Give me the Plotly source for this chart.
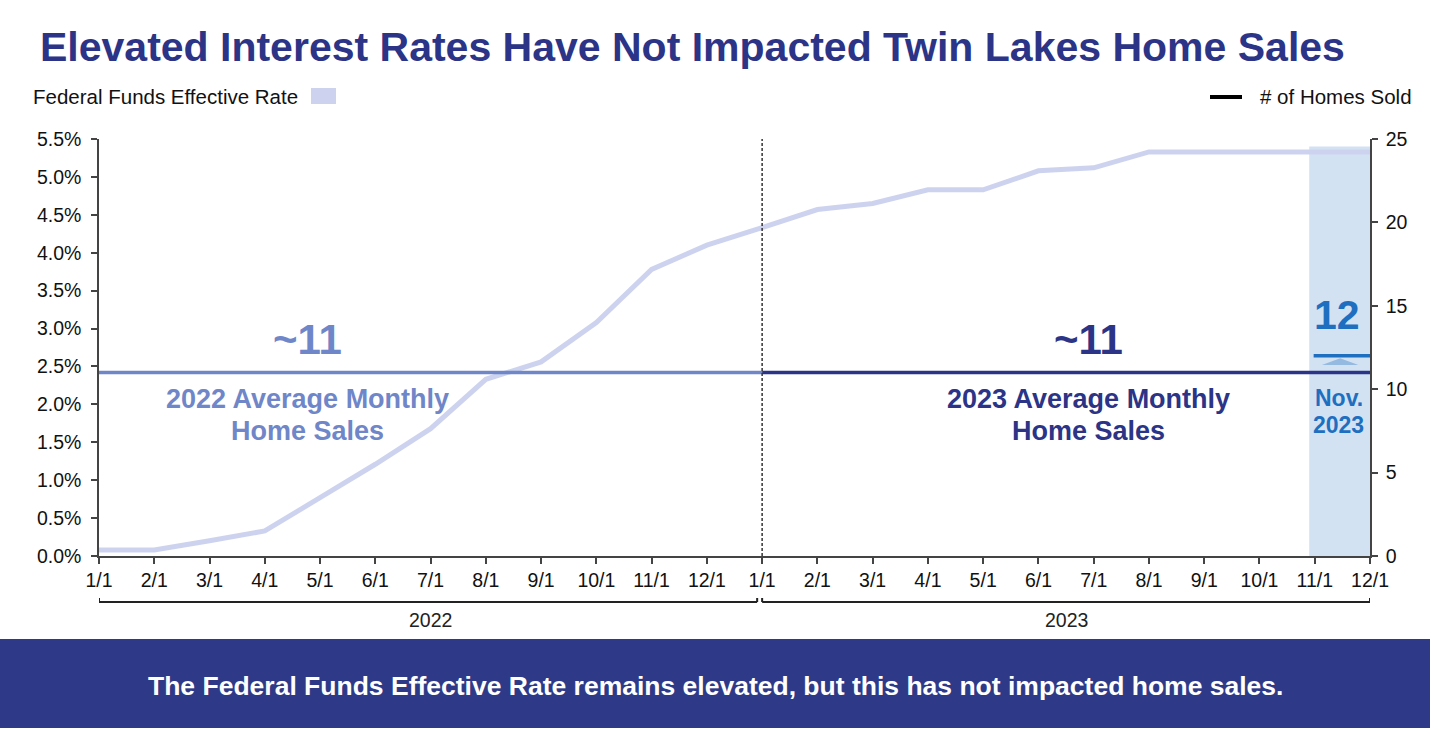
import plotly.graph_objects as go

# --- data ---
month_labels = ['1/1', '2/1', '3/1', '4/1', '5/1', '6/1', '7/1', '8/1', '9/1', '10/1', '11/1', '12/1',
                '1/1', '2/1', '3/1', '4/1', '5/1', '6/1', '7/1', '8/1', '9/1', '10/1', '11/1', '12/1']
years = ['2022'] * 12 + ['2023'] * 12
fed_rate = [0.08, 0.08, 0.20, 0.33, 0.77, 1.21, 1.68, 2.33, 2.56, 3.08, 3.78, 4.10,
            4.33, 4.57, 4.65, 4.83, 4.83, 5.08, 5.12, 5.33, 5.33, 5.33, 5.33, 5.33]
avg_sales_2022 = 11
avg_sales_2023 = 11
nov_2023_sales = 12

x_idx = list(range(len(month_labels)))
i_2023 = years.index('2023')
i_nov = len(month_labels) - 2
i_last = len(month_labels) - 1

NAVY = '#2b3486'
MID = '#6f86c8'
NOVBLUE = '#1f6fc0'
LAV = '#cdd3ef'
FONT = 'Liberation Sans, Arial, sans-serif'

W, H = 1430, 735
L, R, T, B = 99, 60, 139, 179


def px(x):
    return (x - L) / (W - L - R)


def py(y):
    return (H - B - y) / (H - T - B)


fig = go.Figure()

# Fed funds rate
fig.add_trace(go.Scatter(x=x_idx, y=fed_rate, mode='lines', line=dict(color=LAV, width=5),
                         name='Federal Funds Effective Rate', hoverinfo='skip'))

# Average monthly home sales lines
fig.add_trace(go.Scatter(x=[x_idx[0], x_idx[i_2023]], y=[avg_sales_2022] * 2, yaxis='y2', mode='lines',
                         line=dict(color=MID, width=3.5), showlegend=False))
fig.add_trace(go.Scatter(x=[x_idx[i_2023], x_idx[i_last]], y=[avg_sales_2023] * 2, yaxis='y2', mode='lines',
                         line=dict(color=NAVY, width=3.5), showlegend=False))
fig.add_trace(go.Scatter(x=[x_idx[i_nov] - 0.02, x_idx[i_last]], y=[nov_2023_sales] * 2, yaxis='y2', mode='lines',
                         line=dict(color=NOVBLUE, width=3.5), showlegend=False))

shapes = []
# Nov 2023 highlight column
shapes.append(dict(type='rect', xref='x', yref='y', x0=x_idx[i_nov] - 0.1, x1=x_idx[i_last], y0=0, y1=5.4,
                   fillcolor='#d3e2f3', line_width=0, layer='below'))
# small up arrow under the 12 line
shapes.append(dict(type='path', xref='x', yref='y2',
                   path=f'M {i_nov + 0.13},11.45 L {i_nov + 0.79},11.45 L {i_nov + 0.46},11.85 Z',
                   fillcolor='rgba(31,111,192,0.35)', line_width=0))
# dashed separator at 1/1/2023
shapes.append(dict(type='line', xref='x', yref='paper', x0=i_2023, x1=i_2023, y0=0, y1=1,
                   line=dict(color='#333333', width=1.5, dash='3px,2px'), layer='above'))
# year brackets
for x0, x1 in [(0, i_2023 - 0.09), (i_2023, i_last)]:
    shapes.append(dict(type='line', xref='x', yref='paper', x0=x0, x1=x1, y0=py(602), y1=py(602),
                       line=dict(color='#222222', width=2)))
    for xx in (x0, x1):
        shapes.append(dict(type='line', xref='x', yref='paper', x0=xx, x1=xx, y0=py(602), y1=py(598),
                           line=dict(color='#222222', width=2)))
# legend swatches
shapes.append(dict(type='rect', xref='paper', yref='paper', x0=px(311), x1=px(336), y0=py(104), y1=py(88),
                   fillcolor=LAV, line_width=0))
shapes.append(dict(type='line', xref='paper', yref='paper', x0=px(1210), x1=px(1242), y0=py(97), y1=py(97),
                   line=dict(color='black', width=4)))
# footer banner
shapes.append(dict(type='rect', xref='paper', yref='paper', x0=px(0), x1=px(W), y0=py(728), y1=py(639),
                   fillcolor='#2e3a87', line_width=0))
fig.update_layout(shapes=shapes)


def label(x, y, text, size, color, xref='paper', yref='paper', xanchor='center'):
    fig.add_annotation(x=x, y=y, xref=xref, yref=yref, showarrow=False, text=text,
                       xanchor=xanchor, yanchor='middle',
                       font=dict(size=size, color=color, family=FONT))


# --- title ---
label(px(692), py(47), '<b>Elevated Interest Rates Have Not Impacted Twin Lakes Home Sales</b>', 41, NAVY)

# legend text
label(px(31), py(97), 'Federal Funds Effective Rate', 20.5, '#111111', xanchor='left')
label(px(1258), py(97), '# of Homes Sold', 20.5, '#111111', xanchor='left')

# chart callouts
label(3.78, 13.0, f'<b>~{avg_sales_2022}</b>', 42, MID, 'x', 'y2')
label(3.78, (556.7 - 400) / 16.67, '<b>2022 Average Monthly</b>', 27, MID, 'x', 'y2')
label(3.78, (556.7 - 432) / 16.67, '<b>Home Sales</b>', 27, MID, 'x', 'y2')
label(17.9, 13.0, f'<b>~{avg_sales_2023}</b>', 42, NAVY, 'x', 'y2')
label(17.9, (556.7 - 400) / 16.67, '<b>2023 Average Monthly</b>', 27, NAVY, 'x', 'y2')
label(17.9, (556.7 - 432) / 16.67, '<b>Home Sales</b>', 27, NAVY, 'x', 'y2')
label(i_nov + 0.4, 14.45, f'<b>{nov_2023_sales}</b>', 41, NOVBLUE, 'x', 'y2')
label(i_nov + 0.43, (556.7 - 399) / 16.67, '<b>Nov.</b>', 23, NOVBLUE, 'x', 'y2')
label(i_nov + 0.43, (556.7 - 426) / 16.67, '<b>2023</b>', 23, NOVBLUE, 'x', 'y2')

# year labels
for yr in ['2022', '2023']:
    idx = [i for i, v in enumerate(years) if v == yr]
    xc = (idx[0] + (idx[-1] + 1 if yr == '2022' else idx[-1])) / 2
    label(xc, py(620), yr, 19.5, '#222222', 'x', 'paper')

# footer text
label(px(W / 2), py(686),
      '<b>The Federal Funds Effective Rate remains elevated, but this has not impacted home sales.</b>',
      26.5, 'white')

axis_common = dict(showline=True, linecolor='#444444', linewidth=1.5, ticks='outside', ticklen=6,
                   tickcolor='#444444', tickwidth=1.5, showgrid=False, zeroline=False,
                   tickfont=dict(size=19.5, color='#111111', family=FONT))

fig.update_layout(
    width=W, height=H,
    margin=dict(l=L, r=R, t=T, b=B),
    paper_bgcolor='white', plot_bgcolor='white',
    showlegend=False,
    xaxis=dict(range=[0, i_last], tickvals=x_idx, ticktext=month_labels, **axis_common),
    yaxis=dict(range=[0, 5.5], dtick=0.5, tickformat='.1f', ticksuffix='%', ticklabelstandoff=6,
               **axis_common),
    yaxis2=dict(range=[0, 25], dtick=5, overlaying='y', side='right', ticklabelstandoff=4,
                **axis_common),
)

fig.write_html('out.html', config={'displayModeBar': False},
               post_script="document.body.style.margin='0';")
